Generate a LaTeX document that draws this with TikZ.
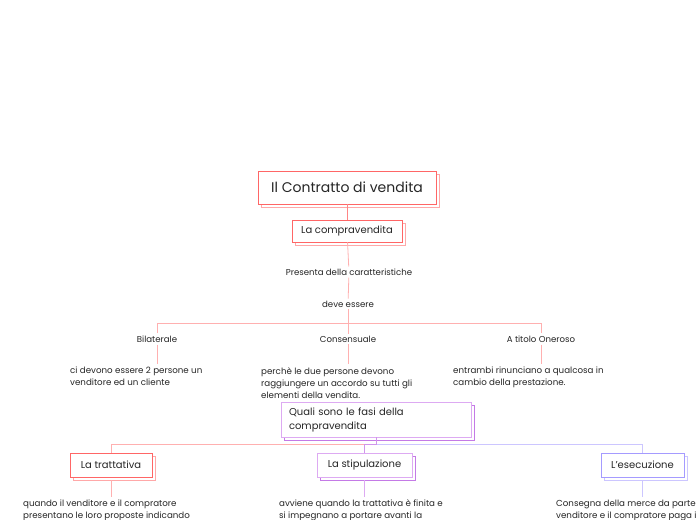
\documentclass[tikz,border=0pt]{standalone}
\usepackage{fontspec}
\setmainfont{Poppins}
\usetikzlibrary{positioning, shadows}

\definecolor{redline}{HTML}{FF6666}
\definecolor{redshadow}{HTML}{FFA8A8}
\definecolor{pinkline}{HTML}{FFB0B0}
\definecolor{violetline}{HTML}{DDAAF2}
\definecolor{violetshadow}{HTML}{C47AE6}
\definecolor{lavline}{HTML}{A59BFF}
\definecolor{lavlight}{HTML}{CCC6FF}
\definecolor{textgray}{HTML}{262626}

\begin{document}
\begin{tikzpicture}[
        x=1pt, y=-1pt,
        topic/.style={rectangle, draw=redline, fill=white, line width=0.9pt, text=textgray,
            copy shadow={shadow xshift=3pt, shadow yshift=-3pt, draw=redshadow, fill=white},
            font=\fontsize{10}{12}\selectfont, minimum height=24pt},
        fase/.style={topic, draw=violetline,
            copy shadow={shadow xshift=3pt, shadow yshift=-3pt, draw=violetshadow, fill=white}},
        fasefin/.style={topic, draw=lavline,
            copy shadow={shadow xshift=3pt, shadow yshift=-3pt, draw=lavlight, fill=white}},
        tag/.style={font=\fontsize{8.6}{10}\selectfont, text=textgray, inner sep=2pt},
        note/.style={font=\fontsize{8.7}{12}\selectfont, text=textgray, align=left,
            anchor=north west, inner sep=0pt},
        conn/.style={draw=pinkline, line width=0.8pt}
    ]
        \useasboundingbox (0,0) rectangle (697,520);
        \fill[white] (0,0) rectangle (697,520);
        \clip (0,0) rectangle (697,520);

        % Root
        \node[topic, font=\fontsize{14}{16}\selectfont, minimum width=178pt, minimum height=33pt] (root) at (347,187.5) {Il Contratto di vendita};
        \node[topic, minimum width=110pt, minimum height=22pt] (compra) at (347,231) {La compravendita};

        % Characteristics
        \node[tag] (pres) at (349,272) {Presenta della caratteristiche};
        \node[tag] (deve) at (348,304) {deve essere};
        \coordinate (barA) at (348,323);

        \node[tag] (bil) at (157,339) {Bilaterale};
        \node[tag] (cons) at (348,339) {Consensuale};
        \node[tag] (oner) at (541,339) {A titolo Oneroso};

        \node[note] (bilnote) at (70,367) {ci devono essere 2 persone un\\venditore ed un cliente};
        \node[note] (consnote) at (261,367) {perchè le due persone devono\\raggiungere un accordo su tutti gli\\elementi della vendita.};
        \node[note] (onernote) at (453,367) {entrambi rinunciano a qualcosa in\\cambio della prestazione.};

        % Phases
        \node[fase, minimum width=190pt, minimum height=35pt, text width=174pt, align=left, inner xsep=8pt,
            font=\fontsize{10}{14}\selectfont] (fasi) at (376,419.5) {Quali sono le fasi della\\compravendita};
        \coordinate (barB) at ([yshift=-7pt]fasi.south);

        \node[topic, minimum width=82pt] (tratt) at (111,465) {La trattativa};
        \node[fase, minimum width=95pt] (stip) at (364.5,465) {La stipulazione};
        \node[fasefin, minimum width=83pt] (esec) at (642.5,465) {L'esecuzione};

        \node[note] (trattnote) at (23,499.5) {quando il venditore e il compratore\\presentano le loro proposte indicando};
        \node[note] (stipnote) at (279,499.5) {avviene quando la trattativa è finita e\\si impegnano a portare avanti la};
        \node[note] (esecnote) at (556,499.5) {Consegna della merce da parte\\venditore e il compratore paga il};

        % Connectors
        \draw[conn, draw=redline!80] (root) -- (compra);
        \draw[conn] (compra) -- (pres);
        \draw[conn] (pres) -- (deve);
        \draw[conn] (deve) -- (barA);
        \draw[conn] (bil.north) -- (bil.north |- barA) -- (oner.north |- barA) -- (oner.north);
        \draw[conn] (barA) -- (cons.north);
        \draw[conn] (bil.south) -- ([yshift=3pt]bil.south |- bilnote.north);
        \draw[conn] (cons.south) -- ([yshift=3pt]cons.south |- consnote.north);
        \draw[conn] (oner.south) -- ([yshift=3pt]oner.south |- onernote.north);

        \draw[conn] (tratt.north) -- (tratt.north |- barB) -- (stip.north |- barB);
        \draw[conn, draw=lavlight] (stip.north |- barB) -- (esec.north |- barB) -- (esec.north);
        \draw[conn, draw=violetshadow!80] (fasi.south) -- (barB) -- (stip.north |- barB) -- (stip.north);
        \draw[conn] ([yshift=-3pt]tratt.south) -- ([yshift=3pt]tratt.south |- trattnote.north);
        \draw[conn, draw=violetline] ([yshift=-3pt]stip.south) -- ([yshift=3pt]stip.south |- stipnote.north);
        \draw[conn, draw=lavlight] ([yshift=-3pt]esec.south) -- ([yshift=3pt]esec.south |- esecnote.north);
\end{tikzpicture}
\end{document}
